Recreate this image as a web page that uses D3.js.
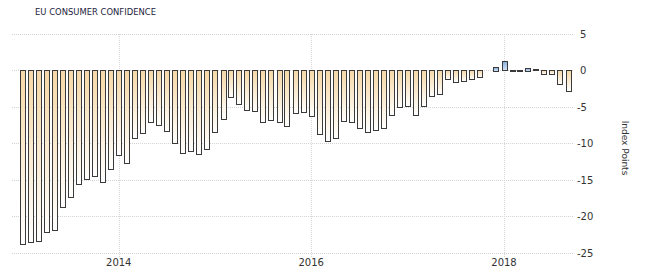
<!DOCTYPE html>
<html>
<head>
<meta charset="utf-8">
<script src="https://cdn.jsdelivr.net/npm/d3@7"></script>
<style>
  body { margin: 0; background: #fff; }
  svg { display: block; font-family: "DejaVu Sans", Verdana, sans-serif; }
</style>
</head>
<body>
<div id="chart"></div>
<script>
// monthly readings, Jan 2013 .. Sep 2018 (Nov 2017 not drawn in the source)
const months = [
  '2013-01','2013-02','2013-03','2013-04','2013-05','2013-06','2013-07','2013-08','2013-09','2013-10','2013-11','2013-12',
  '2014-01','2014-02','2014-03','2014-04','2014-05','2014-06','2014-07','2014-08','2014-09','2014-10','2014-11','2014-12',
  '2015-01','2015-02','2015-03','2015-04','2015-05','2015-06','2015-07','2015-08','2015-09','2015-10','2015-11','2015-12',
  '2016-01','2016-02','2016-03','2016-04','2016-05','2016-06','2016-07','2016-08','2016-09','2016-10','2016-11','2016-12',
  '2017-01','2017-02','2017-03','2017-04','2017-05','2017-06','2017-07','2017-08','2017-09','2017-10','2017-11','2017-12',
  '2018-01','2018-02','2018-03','2018-04','2018-05','2018-06','2018-07','2018-08','2018-09'
];
const values = [
  -23.9, -23.6, -23.5, -22.3, -21.9, -18.8, -17.4, -15.6, -14.9, -14.5, -15.4, -13.6,
  -11.7, -12.7, -9.3, -8.6, -7.1, -7.5, -8.4, -10.0, -11.4, -11.1, -11.5, -10.9,
  -8.5, -6.7, -3.7, -4.6, -5.5, -5.6, -7.1, -6.9, -7.1, -7.7, -5.9, -5.7,
  -6.3, -8.8, -9.7, -9.3, -7.0, -7.2, -7.9, -8.5, -8.2, -8.0, -6.2, -5.1,
  -4.9, -6.2, -5.0, -3.6, -3.3, -1.3, -1.7, -1.5, -1.2, -1.0, null, 0.5,
  1.3, 0.1, 0.1, 0.4, 0.2, -0.5, -0.6, -1.9, -2.9
];
const yTicks = [5, 0, -5, -10, -15, -20, -25];
const xTickYears = [2014, 2016, 2018];
const title = 'EU CONSUMER CONFIDENCE';
const unitLabel = 'Index Points';

const W = 649, H = 274;
const parse = d3.timeParse('%Y-%m');
const data = months.map((m, i) => ({ date: parse(m), value: values[i] }))
  .filter(d => d.value !== null);

const svg = d3.select('#chart').append('svg')
  .attr('width', W).attr('height', H);

const defs = svg.append('defs');
const neg = defs.append('linearGradient').attr('id', 'negGrad')
  .attr('x1', 0).attr('y1', 0).attr('x2', 0).attr('y2', 1);
neg.append('stop').attr('offset', '0%').attr('stop-color', '#f5d8a6');
neg.append('stop').attr('offset', '100%').attr('stop-color', '#ffffff');
const pos = defs.append('linearGradient').attr('id', 'posGrad')
  .attr('x1', 0).attr('y1', 0).attr('x2', 0).attr('y2', 1);
pos.append('stop').attr('offset', '0%').attr('stop-color', '#85afdc');
pos.append('stop').attr('offset', '100%').attr('stop-color', '#d4e4f5');

const x = d3.scaleTime()
  .domain([new Date(2013, 0, 1), new Date(2018, 0, 1)])
  .range([22.5, 504]);
const y = d3.scaleLinear().domain([-25, 5]).range([252.6, 34]);

const gridL = 12, gridR = 573;

// horizontal grid
svg.append('g').selectAll('line').data(yTicks).enter().append('line')
  .attr('x1', gridL).attr('x2', gridR)
  .attr('y1', d => Math.round(y(d)) + 0.5).attr('y2', d => Math.round(y(d)) + 0.5)
  .attr('stroke', '#d4d4d4').attr('stroke-width', 1)
  .attr('stroke-dasharray', '1,1');

// vertical grid
svg.append('g').selectAll('line').data(xTickYears).enter().append('line')
  .attr('x1', d => Math.round(x(new Date(d, 0, 1))) + 0.5)
  .attr('x2', d => Math.round(x(new Date(d, 0, 1))) + 0.5)
  .attr('y1', y(5)).attr('y2', 257)
  .attr('stroke', '#d8d8d8').attr('stroke-width', 1)
  .attr('stroke-dasharray', '1,1');

// bars
const bw = 5;
svg.append('g').selectAll('rect').data(data).enter().append('rect')
  .attr('x', d => Math.round(x(d.date) - bw / 2) + 0.5)
  .attr('y', d => Math.round(y(Math.max(0, d.value))) + 0.5)
  .attr('width', bw)
  .attr('height', d => Math.max(0, Math.round(Math.abs(y(d.value) - y(0)))))
  .attr('fill', d => d.value >= 0 ? 'url(#posGrad)' : 'url(#negGrad)')
  .attr('stroke', '#3a3a3a').attr('stroke-width', 1);

// y tick labels (right side)
svg.append('g').selectAll('text').data(yTicks).enter().append('text')
  .attr('x', d => d < 0 ? 577 : 580)
  .attr('y', d => y(d) + 4)
  .attr('font-size', 10).attr('fill', '#333')
  .text(d => d < 0 ? '-' + Math.abs(d) : d);

// x tick labels
svg.append('g').selectAll('text').data(xTickYears).enter().append('text')
  .attr('x', d => x(new Date(d, 0, 1)))
  .attr('y', 266)
  .attr('text-anchor', 'middle')
  .attr('font-size', 10).attr('fill', '#333')
  .text(d => d);

// title
svg.append('text')
  .attr('x', 35).attr('y', 15)
  .attr('font-size', 9.5).attr('fill', '#1c1c3c')
  .attr('textLength', 121).attr('lengthAdjust', 'spacingAndGlyphs')
  .text(title);

// unit label
svg.append('text')
  .attr('transform', 'translate(622,148) rotate(90)')
  .attr('text-anchor', 'middle')
  .attr('font-size', 9).attr('fill', '#333')
  .text(unitLabel);
</script>
</body>
</html>
